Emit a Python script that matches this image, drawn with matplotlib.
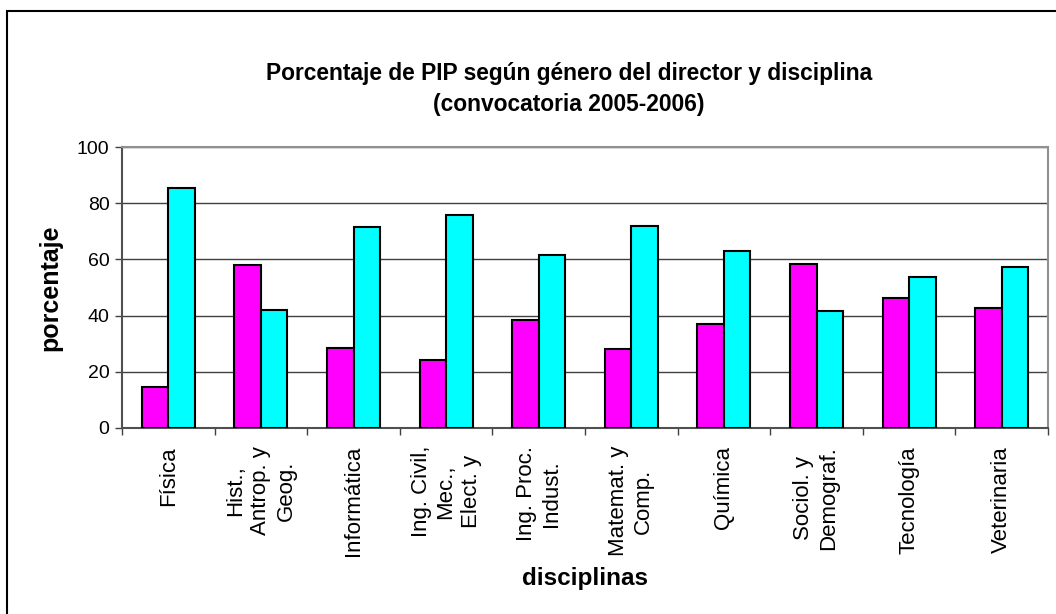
import matplotlib.pyplot as plt
import numpy as np
from matplotlib.patches import Rectangle

plt.rcParams['font.family'] = ['Liberation Sans', 'DejaVu Sans']

disciplinas = ["Física", "Hist.,\nAntrop. y\nGeog.", "Informática", "Ing. Civil,\nMec.,\nElect. y",
               "Ing. Proc.\nIndust.", "Matemat. y\nComp.", "Química", "Sociol. y\nDemograf.",
               "Tecnología", "Veterinaria"]
mujeres = [14.6, 58.0, 28.5, 24.3, 38.4, 28.1, 37.0, 58.4, 46.3, 42.8]
varones = [85.4, 42.0, 71.5, 75.7, 61.6, 71.9, 63.0, 41.6, 53.7, 57.2]

fig = plt.figure(figsize=(10.56, 6.14), dpi=100)
ax = fig.add_axes([122/1056, 1-428/614, 926/1056, 281/614])

x = np.arange(len(disciplinas))
w = 0.286
ax.bar(x - w/2, mujeres, w, color='#FF00FF', edgecolor='black', linewidth=1.5, zorder=3)
ax.bar(x + w/2, varones, w, color='#00FFFF', edgecolor='black', linewidth=1.5, zorder=3)

ax.set_xlim(-0.5, len(disciplinas) - 0.5)
ax.set_ylim(0, 100)
ax.set_yticks([0, 20, 40, 60, 80, 100])
ax.yaxis.grid(True, color='#404040', linewidth=1, zorder=0)
ax.tick_params(axis='y', labelsize=14, length=5, width=1, color='#404040', pad=4)

ax.set_xticks(x)
ax.set_xticklabels(disciplinas, rotation=90, fontsize=16, linespacing=1.25, ha='center', va='top', multialignment='center')
ax.tick_params(axis='x', which='major', length=0, pad=13)
ax.set_xticks(np.arange(len(disciplinas) + 1) - 0.5, minor=True)
ax.tick_params(axis='x', which='minor', length=5, width=1, color='#404040')

for s in ['left', 'bottom']:
    ax.spines[s].set_color('#505050')
    ax.spines[s].set_linewidth(1.5)
for s in ['top', 'right']:
    ax.spines[s].set_color('#909090')
    ax.spines[s].set_linewidth(1.5)

ax.set_ylabel("porcentaje", fontsize=18, fontweight='bold', va='center')
ax.yaxis.set_label_coords((50 - 122)/926, 0.5)
ax.set_xlabel("disciplinas", fontsize=17.5, fontweight='bold', va='center')
ax.xaxis.set_label_coords((585 - 122)/926, (428 - 578)/281)

fig.text(569/1056, 1-89/614, "Porcentaje de PIP según género del director y disciplina\n(convocatoria 2005-2006)",
         ha='center', va='center', fontsize=16.4, fontweight='bold', linespacing=1.45)

fig.patches.append(Rectangle((7/1056, -0.05), 1.1, 1-11/614 + 0.05, transform=fig.transFigure,
                             fill=False, edgecolor='black', linewidth=1.5))

fig.savefig("out.png", dpi=100)
